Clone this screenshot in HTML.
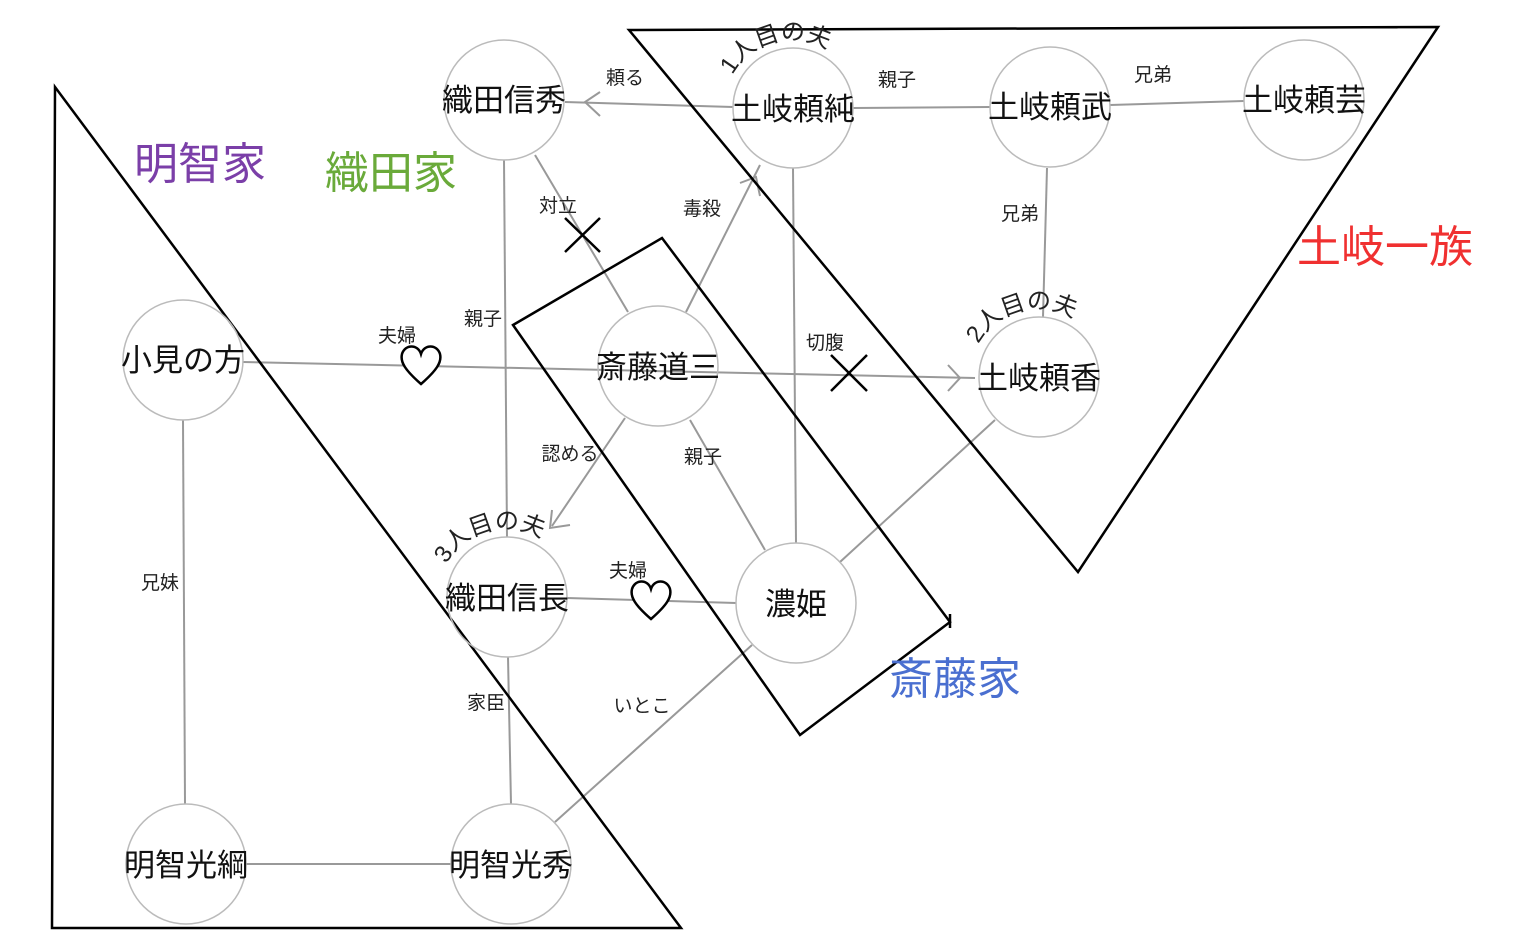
<!DOCTYPE html>
<html><head><meta charset="utf-8"><style>
html,body{margin:0;padding:0;background:#fff;}
svg{display:block;}
text{font-family:"Liberation Sans","Noto Sans CJK JP",sans-serif;}
</style></head><body>
<svg width="1536" height="951" viewBox="0 0 1536 951" xmlns="http://www.w3.org/2000/svg">
<defs>
<path id="a1" d="M 727 88 A 68 68 0 0 1 857 88"/>
<path id="a2" d="M 973 357 A 68 68 0 0 1 1103 357"/>
<path id="a3" d="M 441 577 A 68 68 0 0 1 571 577"/>
</defs>
<g stroke="#999" stroke-width="2" fill="none">
<line x1="565" y1="102" x2="733" y2="107"/>
<polyline points="600,92 585,102 600,116"/>
<line x1="853" y1="108" x2="990" y2="107"/>
<line x1="1110" y1="105" x2="1244" y2="101"/>
<line x1="1047" y1="168" x2="1043" y2="317"/>
<line x1="535" y1="155" x2="628" y2="312"/>
<line x1="686" y1="312" x2="760" y2="165"/>
<polyline points="740,183 756,177 760,196"/>
<line x1="504" y1="160" x2="507" y2="537"/>
<line x1="243" y1="362" x2="975" y2="378"/>
<polyline points="948,365 960,378 948,391"/>
<line x1="793" y1="168" x2="796" y2="543"/>
<line x1="625" y1="418" x2="552" y2="526"/>
<polyline points="552,510 550,528 570,525"/>
<line x1="690" y1="420" x2="765" y2="550"/>
<line x1="567" y1="598" x2="736" y2="603"/>
<line x1="995" y1="420" x2="840" y2="562"/>
<line x1="183" y1="420" x2="185" y2="804"/>
<line x1="508" y1="657" x2="511" y2="804"/>
<line x1="246" y1="864" x2="451" y2="864"/>
<line x1="752" y1="645" x2="555" y2="822"/>
</g>
<g stroke="#000" stroke-width="2.5" fill="none">
<polygon points="55,87 52,928 681,928"/>
<polygon points="629,30 1438,27 1078,572"/>
<polygon points="513,325 662,238 950,622 800,735"/>
<line x1="950" y1="614" x2="950" y2="628"/>
<line x1="565" y1="218" x2="600" y2="252"/><line x1="600" y1="218" x2="565" y2="252"/>
<line x1="831" y1="355" x2="867" y2="391"/><line x1="867" y1="355" x2="831" y2="391"/>
<path d="M421,384 C405,370 400,362 402,354 C405,344 418,344 421,354 C424,344 437,344 440,354 C442,362 437,370 421,384 Z" fill="#fff"/>
<path d="M651,619 C635,605 630,597 632,589 C635,579 648,579 651,589 C654,579 667,579 670,589 C672,597 667,605 651,619 Z" fill="#fff"/>
</g>
<g stroke="#bbb" stroke-width="1.5" fill="none">
<circle cx="504" cy="100" r="60"/><circle cx="793" cy="108" r="60"/>
<circle cx="1050" cy="107" r="60"/><circle cx="1304" cy="100" r="60"/>
<circle cx="183" cy="360" r="60"/><circle cx="658" cy="366" r="60"/>
<circle cx="1039" cy="377" r="60"/><circle cx="507" cy="597" r="60"/>
<circle cx="796" cy="603" r="60"/><circle cx="186" cy="864" r="60"/>
<circle cx="511" cy="864" r="60"/>
</g>
<g font-size="31" fill="#111" text-anchor="middle">
<text x="504" y="111">織田信秀</text><text x="793" y="120">土岐頼純</text>
<text x="1050" y="118">土岐頼武</text><text x="1304" y="111">土岐頼芸</text>
<text x="183" y="371">小見の方</text><text x="658" y="378">斎藤道三</text>
<text x="1039" y="389">土岐頼香</text><text x="507" y="609">織田信長</text>
<text x="796" y="615">濃姫</text><text x="186" y="876">明智光綱</text>
<text x="511" y="876">明智光秀</text>
</g>
<g font-size="19" fill="#222" text-anchor="middle">
<text x="625" y="84">頼る</text><text x="897" y="86">親子</text>
<text x="1153" y="81">兄弟</text><text x="1020" y="220">兄弟</text>
<text x="558" y="212">対立</text><text x="702" y="215">毒殺</text>
<text x="483" y="325">親子</text><text x="397" y="342">夫婦</text>
<text x="825" y="349">切腹</text><text x="570" y="460">認める</text>
<text x="703" y="463">親子</text><text x="628" y="577">夫婦</text>
<text x="160" y="589">兄妹</text><text x="486" y="709">家臣</text>
<text x="642" y="712">いとこ</text>
</g>
<g font-size="24" fill="#222">
<text><textPath href="#a1" startOffset="14">1人目の夫</textPath></text>
<text><textPath href="#a2" startOffset="14">2人目の夫</textPath></text>
<text><textPath href="#a3" startOffset="14">3人目の夫</textPath></text>
</g>
<g font-size="44" text-anchor="middle">
<text x="200" y="179" fill="#7b3fa8">明智家</text>
<text x="391" y="188" fill="#6aaa3a">織田家</text>
<text x="1385" y="262" fill="#f03030">土岐一族</text>
<text x="955" y="694" fill="#4a6fd0">斎藤家</text>
</g>
</svg>
</body></html>
